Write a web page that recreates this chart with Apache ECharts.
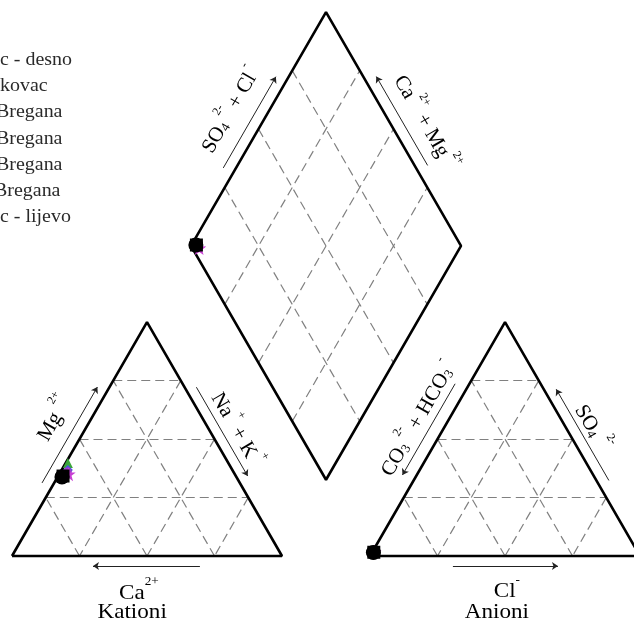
<!DOCTYPE html>
<html>
<head>
<meta charset="utf-8">
<script src="https://cdn.jsdelivr.net/npm/echarts@6/dist/echarts.min.js"></script>
<style>
  html, body { margin: 0; padding: 0; background: #fff; }
  #chart { width: 634px; height: 625px; }
</style>
</head>
<body>
<div id="chart"></div>
<script>
// sample names (legend is cropped on the left in the source picture)
const sampleNames = ['c - desno', 'kovac', 'Bregana', 'Bregana', 'Bregana', 'Bregana', 'c - lijevo'];

// cations, % meq
const caPct  = [64.6, 64.0, 61.5, 59.4, 60.9, 61.5, 64.4];
const mgPct  = [33.8, 34.2, 35.0, 39.8, 36.8, 36.0, 34.0];
const nakPct = [1.6, 1.8, 3.5, 0.8, 2.3, 2.5, 1.6];

// anions, % meq
const hco3Pct = [98.0, 97.8, 97.4, 98.2, 97.6, 97.7, 98.0];
const so4Pct  = [1.5, 1.6, 1.9, 1.3, 1.7, 1.7, 1.5];
const clPct   = [0.5, 0.6, 0.7, 0.5, 0.7, 0.6, 0.5];

// marker look per sample
const markerShape = ['circle', 'rect', 'path://M0,-10L2.4,-3.2L9.5,-3.1L3.8,1.2L5.9,8.1L0,4L-5.9,8.1L-3.8,1.2L-9.5,-3.1L-2.4,-3.2Z', 'triangle', 'diamond', 'circle', 'circle'];
const markerColor = ['#000', '#000', '#c83fd4', '#3aa63a', '#4a55e8', '#9a3fc8', '#000'];
const markerSize  = [15, 13, 14, 10, 10, 9, 14];

// ---- Piper geometry (triangle side = 100 units) ----
const H = Math.sqrt(3) / 2;
const GAP = 32.6;
const X0 = 100 + GAP; // left corner of anion triangle

const catA = [0, 0], catB = [100, 0], catC = [50, 100 * H];
const anA = [X0, 0], anB = [X0 + 100, 0], anC = [X0 + 50, 100 * H];
const dL = [(100 + GAP) / 2, H * (100 + GAP)];
const dT = [(200 + GAP) / 2, H * (200 + GAP)];
const dR = [(300 + GAP) / 2, H * (100 + GAP)];
const dD = [100 + GAP / 2, H * GAP];

function lerp(P, Q, t) { return [P[0] + t * (Q[0] - P[0]), P[1] + t * (Q[1] - P[1])]; }
// point on edge P->Q at t, moved off by `off` along the left normal (outside for our edges)
function along(P, Q, t, off) {
  const dx = Q[0] - P[0], dy = Q[1] - P[1];
  const len = Math.hypot(dx, dy);
  const p = lerp(P, Q, t);
  return [p[0] - dy / len * off, p[1] + dx / len * off];
}

function cationXY(i) {
  const s = caPct[i] + mgPct[i] + nakPct[i];
  const mg = mgPct[i] / s * 100, nak = nakPct[i] / s * 100;
  return [nak + mg / 2, mg * H];
}
function anionXY(i) {
  const s = hco3Pct[i] + so4Pct[i] + clPct[i];
  const so4 = so4Pct[i] / s * 100, cl = clPct[i] / s * 100;
  return [X0 + cl + so4 / 2, so4 * H];
}
function diamondXY(i) {
  const s1 = caPct[i] + mgPct[i] + nakPct[i];
  const s2 = hco3Pct[i] + so4Pct[i] + clPct[i];
  const nak = nakPct[i] / s1 * 100;
  const xa = X0 + (so4Pct[i] + clPct[i]) / s2 * 100;
  return [(nak + xa) / 2, H * (xa - nak)];
}

// grid lines
function triGrid(A, B, C) {
  const out = [];
  [[A, B, C], [B, C, A], [C, A, B]].forEach(([V, U, W]) => {
    [0.25, 0.5, 0.75].forEach(f => out.push({ coords: [lerp(V, U, f), lerp(V, W, f)] }));
  });
  return out;
}
function diaGrid() {
  const out = [];
  [0.25, 0.5, 0.75].forEach(f => {
    out.push({ coords: [lerp(dL, dD, f), lerp(dT, dR, f)] });
    out.push({ coords: [lerp(dL, dT, f), lerp(dD, dR, f)] });
  });
  return out;
}

const gridLines = [].concat(triGrid(catA, catB, catC), triGrid(anA, anB, anC), diaGrid());
const outlines = [
  [catA, catB, catC, catA],
  [anA, anB, anC, anA],
  [dL, dT, dR, dD, dL]
];

const arrows = [
  { coords: [along(catA, catC, 0.29, 3.9), along(catA, catC, 0.70, 3.9)] },
  { coords: [along(catC, catB, 0.30, 3.8), along(catC, catB, 0.68, 3.8)] },
  { coords: [[69.6, -3.7], [30, -3.7]] },
  { coords: [along(anA, anC, 0.71, 4.6), along(anA, anC, 0.32, 4.6)] },
  { coords: [along(anC, anB, 0.70, 4.0), along(anC, anB, 0.31, 4.0)] },
  { coords: [[X0 + 30.7, -3.7], [X0 + 69.6, -3.7]] },
  { coords: [along(dL, dT, 0.31, 4.1), along(dL, dT, 0.70, 4.1)] },
  { coords: [along(dT, dR, 0.68, 4.2), along(dT, dR, 0.30, 4.2)] }
];

const ROT = Math.PI / 3;
const labels = [
  { pos: along(catA, catC, 0.52, 13), rot: ROT, text: '{m|Mg}{s|  2+}' },
  { pos: along(catC, catB, 0.51, 10), rot: -ROT, text: '{m|Na}{s| +}{m| + K}{s| +}' },
  { pos: [47, -12.5], rot: 0, text: '{m|Ca}{s|2+}' },
  { pos: [44.5, -21], rot: 0, text: '{k|Kationi}' },
  { pos: along(anA, anC, 0.53, 11), rot: ROT, text: '{m|CO}{b|3}{s| 2-}{m| + HCO}{b|3}{s| -}' },
  { pos: along(anC, anB, 0.50, 9.5), rot: -ROT, text: '{m|SO}{b|4}{s|  2-}' },
  { pos: [X0 + 50.7, -12], rot: 0, text: '{m|Cl}{s|-}' },
  { pos: [X0 + 47, -21], rot: 0, text: '{k|Anioni}' },
  { pos: along(dL, dT, 0.51, 13.5), rot: ROT, text: '{m|SO}{b|4}{s| 2-}{m| + Cl}{s| -}' },
  { pos: along(dT, dR, 0.54, 12.5), rot: -ROT, text: '{m|Ca}{s| 2+}{m| + Mg}{s| 2+}' }
];

const FONT = '"Liberation Serif", "DejaVu Serif", serif';
const rich = {
  m: { fontFamily: FONT, fontSize: 21, color: '#111', padding: [7, 0, 0, 0] },
  s: { fontFamily: FONT, fontSize: 12, color: '#111', verticalAlign: 'top' },
  b: { fontFamily: FONT, fontSize: 13, color: '#111', verticalAlign: 'bottom' },
  k: { fontFamily: FONT, fontSize: 21, color: '#111' }
};

const chart = echarts.init(document.getElementById('chart'), null, { renderer: 'canvas' });

const series = [
  {
    type: 'lines', coordinateSystem: 'cartesian2d', silent: true, z: 1,
    lineStyle: { color: '#808080', width: 1.2, type: [9, 5], opacity: 1 },
    data: gridLines
  },
  {
    type: 'lines', coordinateSystem: 'cartesian2d', silent: true, z: 2,
    symbol: ['none', 'arrow'], symbolSize: 6,
    lineStyle: { color: '#222', width: 1, opacity: 1 },
    data: arrows
  }
];
outlines.forEach(pts => series.push({
  type: 'line', data: pts, symbol: 'none', silent: true, z: 3,
  lineStyle: { color: '#000', width: 2.6 }
}));

// sample markers, coloured first so the black ones sit on top
const order = [3, 4, 5, 2, 1, 0, 6];
order.forEach((i, k) => {
  series.push({
    type: 'scatter', name: sampleNames[i], z: 10 + k,
    symbol: markerShape[i], symbolSize: markerSize[i],
    itemStyle: { color: markerColor[i], opacity: 1 },
    data: [cationXY(i), anionXY(i), diamondXY(i)]
  });
});

chart.setOption({
  animation: false,
  grid: { left: 0, right: 0, top: 0, bottom: 0 },
  xAxis: { type: 'value', min: -12 / 2.7, max: 622 / 2.7, show: false },
  yAxis: { type: 'value', min: -69 / 2.7, max: 556 / 2.7, show: false },
  series: series
});

// axis captions and the cropped legend text
const graphic = labels.map(l => {
  const p = chart.convertToPixel({ gridIndex: 0 }, l.pos);
  return {
    type: 'text', x: p[0], y: p[1], rotation: l.rot, scaleX: l.rot ? 1 : 1.1, z: 20,
    style: { text: l.text, rich: rich, align: 'center', verticalAlign: 'middle' }
  };
});
const legendX = [0, 0, -4, -4, -4, -6, 0];
sampleNames.forEach((name, i) => {
  graphic.push({
    type: 'text', x: legendX[i], y: 60 + i * 26.2, scaleX: 1.05, z: 20,
    style: { text: name, fontFamily: FONT, fontSize: 19, fill: '#2a2a2a', verticalAlign: 'middle' }
  });
});
chart.setOption({ graphic: graphic });
</script>
</body>
</html>
